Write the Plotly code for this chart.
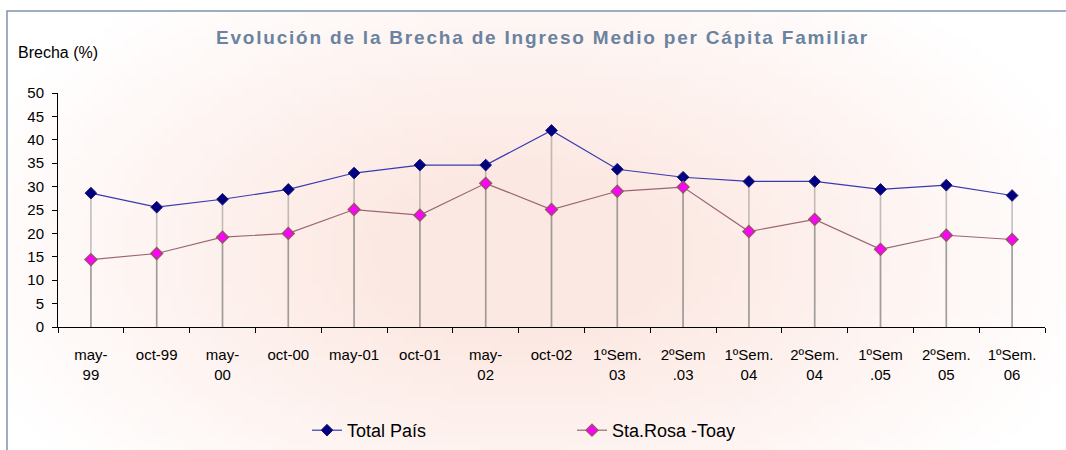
import base64
import struct
import zlib

import plotly.graph_objects as go

categories = ["may-<br>99", "oct-99", "may-<br>00", "oct-00", "may-01", "oct-01",
              "may-<br>02", "oct-02", "1ºSem.<br>03", "2ºSem<br>.03", "1ºSem.<br>04",
              "2ºSem.<br>04", "1ºSem<br>.05", "2ºSem.<br>05", "1ºSem.<br>06"]
total_pais = [28.6, 25.6, 27.3, 29.4, 32.9, 34.6, 34.6, 42.0, 33.7, 32.0, 31.1, 31.1, 29.4, 30.3, 28.1]
sta_rosa = [14.4, 15.7, 19.2, 20.0, 25.1, 23.9, 30.7, 25.1, 29.0, 29.9, 20.4, 23.0, 16.6, 19.6, 18.7]

# plot area in px: x 58..1045, y 93..327 (1066x450 window)
W, H = 1066, 450
L, R, T, B = 58, 1045, 93, 327


def px(x):
    return (x - L) / (R - L)


def py(y):
    return (B - y) / (B - T)


def radial_png(w, h, cx, cy, inner=(252, 232, 226)):
    # small radial gradient background, pink in the middle fading to white
    rows = b""
    for j in range(h):
        row = b"\x00"
        for i in range(w):
            d = (((i - cx) / (w * 0.55)) ** 2 + ((j - cy) / (h * 0.75)) ** 2) ** 0.5
            t = max(0.0, 1.0 - d)
            t = min(1.0, t * 1.3)
            r = [round(255 + (c - 255) * t) for c in inner]
            row += bytes(r)
        rows += row

    def chunk(tag, data):
        c = struct.pack(">I", len(data)) + tag + data
        return c + struct.pack(">I", zlib.crc32(tag + data) & 0xffffffff)

    png = b"\x89PNG\r\n\x1a\n"
    png += chunk(b"IHDR", struct.pack(">IIBBBBB", w, h, 8, 2, 0, 0, 0))
    png += chunk(b"IDAT", zlib.compress(rows, 9))
    png += chunk(b"IEND", b"")
    return "data:image/png;base64," + base64.b64encode(png).decode()


# frame from (7,11) to beyond the window, gradient centred near (520,250)
bg = radial_png(106, 44, (520 - 7) / 10, (250 - 11) / 10)

fig = go.Figure()
fig.add_trace(go.Scatter(
    x=categories, y=total_pais, name="Total País", mode="lines+markers",
    line=dict(color="#3a3ab0", width=1.2),
    marker=dict(symbol="diamond", size=9, color="#000080", line=dict(color="#1a1a70", width=1)),
    error_y=dict(type="data", symmetric=False, array=[0] * len(total_pais), arrayminus=total_pais,
                 width=0, thickness=1.6, color="rgba(120,120,120,0.45)"),
))
fig.add_trace(go.Scatter(
    x=categories, y=sta_rosa, name="Sta.Rosa -Toay", mode="lines+markers",
    line=dict(color="#9a6677", width=1.2),
    marker=dict(symbol="diamond", size=9, color="#ff00ff", line=dict(color="#99506a", width=1.5)),
    error_y=dict(type="data", symmetric=False, array=[0] * len(sta_rosa), arrayminus=sta_rosa,
                 width=0, thickness=1.6, color="rgba(120,120,120,0.45)"),
))

fig.update_layout(
    width=W, height=H,
    margin=dict(l=L, r=W - R, t=T, b=H - B),
    paper_bgcolor="white", plot_bgcolor="rgba(0,0,0,0)",
    font=dict(family="Liberation Sans, Arial", color="black", size=15),
    showlegend=True,
    # container refs so the legend does not push the bottom margin
    legend=dict(orientation="h", xref="container", yref="container",
                x=307 / W, xanchor="left", y=1 - 449 / H, yanchor="bottom",
                font=dict(size=18), entrywidth=220, entrywidthmode="pixels",
                bgcolor="rgba(0,0,0,0)"),
    images=[dict(source=bg, xref="paper", yref="paper", x=px(7), y=py(11),
                 sizex=px(1066) - px(7), sizey=py(11) - py(450), sizing="stretch",
                 xanchor="left", yanchor="top", layer="below")],
    shapes=[dict(type="rect", xref="paper", yref="paper", x0=px(7), x1=px(1080),
                 y0=py(470), y1=py(11), line=dict(color="#7f93ad", width=1.5))],
    annotations=[
        dict(text="<b>Evolución de la Brecha de Ingreso Medio per Cápita Familiar</b>",
             xref="paper", yref="paper", x=px(543), y=py(38), showarrow=False,
             font=dict(size=19, color="#6a83a0"), xanchor="center", yanchor="middle"),
        dict(text="Brecha (%)", xref="paper", yref="paper", x=px(16), y=py(53),
             showarrow=False, font=dict(size=16), xanchor="left", yanchor="middle"),
    ],
)
fig.update_xaxes(range=[-0.5, len(categories) - 0.5],
                 showgrid=False, zeroline=False, showline=True, linecolor="black", linewidth=1,
                 ticks="outside", ticklen=5, tickcolor="black", tickson="boundaries",
                 tickfont=dict(size=15), tickangle=0, ticklabelstandoff=14, automargin=False)
fig.update_yaxes(range=[0, 50], dtick=5, showgrid=False, zeroline=False, showline=True,
                 linecolor="black", linewidth=1, ticks="outside", ticklen=5, tickcolor="black",
                 tickfont=dict(size=15), ticklabelstandoff=5, automargin=False)

# page body margin off so the 1066x450 figure fills the window exactly;
# the original title is set with wide letter spacing
post = """
document.body.style.margin='0px';
var t = document.querySelector('.annotation-text');
if (t) { t.style.letterSpacing = '1.8px'; }
"""
fig.write_html("out.html", config={"displayModeBar": False}, post_script=post)
